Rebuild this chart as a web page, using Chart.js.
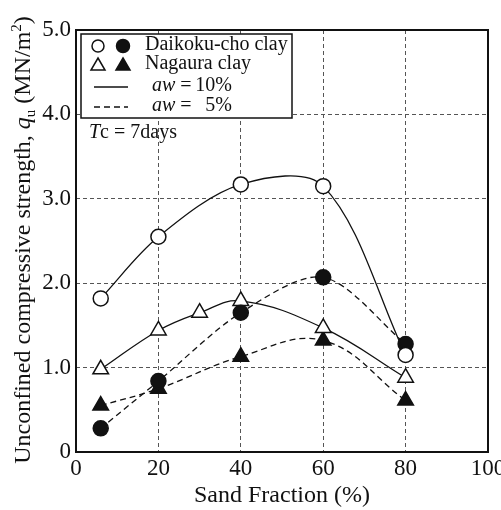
<!DOCTYPE html>
<html>
<head>
<meta charset="utf-8">
<script src="https://cdn.jsdelivr.net/npm/chart.js@4/dist/chart.umd.min.js"></script>
<style>
  html, body { margin: 0; padding: 0; background: #fff; }
  #wrap { width: 501px; height: 510px; }
</style>
</head>
<body>
<div id="wrap"><canvas id="qu-chart"></canvas></div>
<script>
// Sand fraction (%) of each test series
const sandDaikoku = [6, 20, 40, 60, 80];
const sandNagaura10 = [6, 20, 30, 40, 60, 80];
const sandNagaura5 = [6, 20, 40, 60, 80];

// Unconfined compressive strength qu (MN/m2) after Tc = 7 days
const quDaikoku10 = [1.82, 2.55, 3.17, 3.15, 1.15];
const quDaikoku5 = [0.28, 0.84, 1.65, 2.07, 1.28];
const quNagaura10 = [0.98, 1.44, 1.65, 1.79, 1.47, 0.88];
const quNagaura5 = [0.55, 0.75, 1.13, 1.32, 0.61];

// Axis ticks
const xTicks = [0, 20, 40, 60, 80, 100];
const yTicks = [0, 1, 2, 3, 4, 5];

const SERIF = '"Liberation Serif", "Times New Roman", serif';
const INK = '#111';

function toPoints(xs, ys) {
  return xs.map((x, i) => ({ x: x, y: ys[i] }));
}

function series(xs, ys, opts) {
  return Object.assign({
    data: toPoints(xs, ys),
    showLine: true,
    borderColor: INK,
    borderWidth: 1.3,
    pointBorderColor: INK,
    pointBorderWidth: 1.5,
    pointRadius: 7.5,
    pointHoverRadius: 7.5,
    tension: 0.4
  }, opts);
}

// y-axis title with italic q, subscript u and m squared
function drawYTitle(ctx, cx, cy) {
  const big = 24, small = 15;
  const parts = [
    { t: 'Unconfined compressive strength, ', f: big + 'px ' + SERIF, dy: 0 },
    { t: 'q', f: 'italic ' + big + 'px ' + SERIF, dy: 0 },
    { t: 'u', f: small + 'px ' + SERIF, dy: 5 },
    { t: ' (MN/m', f: big + 'px ' + SERIF, dy: 0 },
    { t: '2', f: small + 'px ' + SERIF, dy: -9 },
    { t: ')', f: big + 'px ' + SERIF, dy: 0 }
  ];
  let total = 0;
  parts.forEach(p => { ctx.font = p.f; p.w = ctx.measureText(p.t).width; total += p.w; });
  ctx.save();
  ctx.translate(cx, cy);
  ctx.rotate(-Math.PI / 2);
  ctx.fillStyle = INK;
  ctx.textBaseline = 'alphabetic';
  let x = -total / 2;
  parts.forEach(p => { ctx.font = p.f; ctx.fillText(p.t, x, 8 + p.dy); x += p.w; });
  ctx.restore();
}

// Frame, legend box and curing note
const annotations = {
  id: 'annotations',
  afterDraw(chart) {
    const { ctx, chartArea: a } = chart;
    ctx.save();

    // plot frame
    ctx.strokeStyle = INK;
    ctx.lineWidth = 2;
    ctx.setLineDash([]);
    ctx.strokeRect(a.left, a.top, a.right - a.left, a.bottom - a.top);

    // legend box
    const bx = 81, by = 34, bw = 211, bh = 84;
    ctx.fillStyle = '#fff';
    ctx.fillRect(bx, by, bw, bh);
    ctx.lineWidth = 1.5;
    ctx.strokeRect(bx, by, bw, bh);

    // legend symbols
    ctx.lineWidth = 1.5;
    ctx.strokeStyle = INK;
    ctx.fillStyle = '#fff';
    ctx.beginPath(); ctx.arc(98, 46, 6, 0, Math.PI * 2); ctx.fill(); ctx.stroke();
    ctx.fillStyle = INK;
    ctx.beginPath(); ctx.arc(123, 46, 6.5, 0, Math.PI * 2); ctx.fill(); ctx.stroke();
    const tri = (cx, cy, fill) => {
      ctx.beginPath();
      ctx.moveTo(cx, cy - 7);
      ctx.lineTo(cx + 7, cy + 5);
      ctx.lineTo(cx - 7, cy + 5);
      ctx.closePath();
      ctx.fillStyle = fill;
      ctx.fill(); ctx.stroke();
    };
    tri(98, 65, '#fff');
    tri(123, 65, INK);

    ctx.lineWidth = 1.3;
    ctx.beginPath(); ctx.moveTo(94, 87); ctx.lineTo(128, 87); ctx.stroke();
    ctx.setLineDash([6, 4]);
    ctx.beginPath(); ctx.moveTo(94, 107); ctx.lineTo(128, 107); ctx.stroke();
    ctx.setLineDash([]);

    // legend text
    ctx.fillStyle = INK;
    ctx.textBaseline = 'middle';
    ctx.textAlign = 'left';
    ctx.font = '20px ' + SERIF;
    ctx.fillText('Daikoku-cho clay', 145, 45);
    ctx.fillText('Nagaura clay', 145, 64);

    const row = (y, pct) => {
      ctx.font = 'italic 20px ' + SERIF;
      ctx.fillText('aw', 152, y);
      const w = ctx.measureText('aw').width;
      ctx.font = '20px ' + SERIF;
      ctx.fillText(' =', 152 + w, y);
      ctx.textAlign = 'right';
      ctx.fillText(pct, 232, y);
      ctx.textAlign = 'left';
    };
    row(86, '10%');
    row(106, '5%');

    // curing time note
    ctx.font = 'italic 20px ' + SERIF;
    ctx.fillText('T', 89, 133);
    const tw = ctx.measureText('T').width;
    ctx.font = '20px ' + SERIF;
    ctx.fillText('c = 7days', 89 + tw, 133);

    drawYTitle(ctx, 22, 240);
    ctx.restore();
  }
};

const gridStyle = { color: '#555', lineWidth: 1, drawTicks: false };
const borderStyle = { display: false, dash: [4, 3] };

new Chart(document.getElementById('qu-chart'), {
  type: 'scatter',
  data: {
    datasets: [
      series(sandDaikoku, quDaikoku10, { label: 'Daikoku-cho clay, aw = 10%', pointStyle: 'circle', pointBackgroundColor: '#fff', tension: 0.33 }),
      series(sandDaikoku, quDaikoku5, { label: 'Daikoku-cho clay, aw = 5%', pointStyle: 'circle', pointBackgroundColor: INK, borderDash: [6, 4], tension: 0.3 }),
      series(sandNagaura10, quNagaura10, { label: 'Nagaura clay, aw = 10%', pointStyle: 'triangle', pointRadius: 9, pointHoverRadius: 9, pointBackgroundColor: '#fff' }),
      series(sandNagaura5, quNagaura5, { label: 'Nagaura clay, aw = 5%', pointStyle: 'triangle', pointRadius: 9, pointHoverRadius: 9, pointBackgroundColor: INK, borderDash: [6, 4] })
    ]
  },
  options: {
    responsive: true,
    maintainAspectRatio: false,
    animation: false,
    events: [],
    layout: { padding: { left: 0, right: 13, top: 30, bottom: 0 } },
    plugins: {
      legend: { display: false },
      tooltip: { enabled: false }
    },
    scales: {
      x: {
        type: 'linear',
        min: 0,
        max: 100,
        afterBuildTicks: s => { s.ticks = xTicks.map(v => ({ value: v })); },
        afterFit: s => { s.height = 58; s.paddingLeft = 0; s.paddingRight = 0; },
        grid: gridStyle,
        border: borderStyle,
        ticks: { color: INK, padding: 3, maxRotation: 0, font: { family: SERIF, size: 23 } },
        title: { display: true, text: 'Sand Fraction (%)', color: INK, padding: 0, font: { family: SERIF, size: 24 } }
      },
      y: {
        type: 'linear',
        min: 0,
        max: 5,
        afterBuildTicks: s => { s.ticks = yTicks.map(v => ({ value: v })); },
        afterFit: s => { s.width = 76; s.paddingTop = 0; s.paddingBottom = 0; },
        grid: gridStyle,
        border: borderStyle,
        ticks: {
          color: INK,
          padding: 5,
          font: { family: SERIF, size: 23 },
          callback: v => (v === 0 ? '0' : v.toFixed(1))
        }
      }
    }
  },
  plugins: [annotations]
});
</script>
</body>
</html>
